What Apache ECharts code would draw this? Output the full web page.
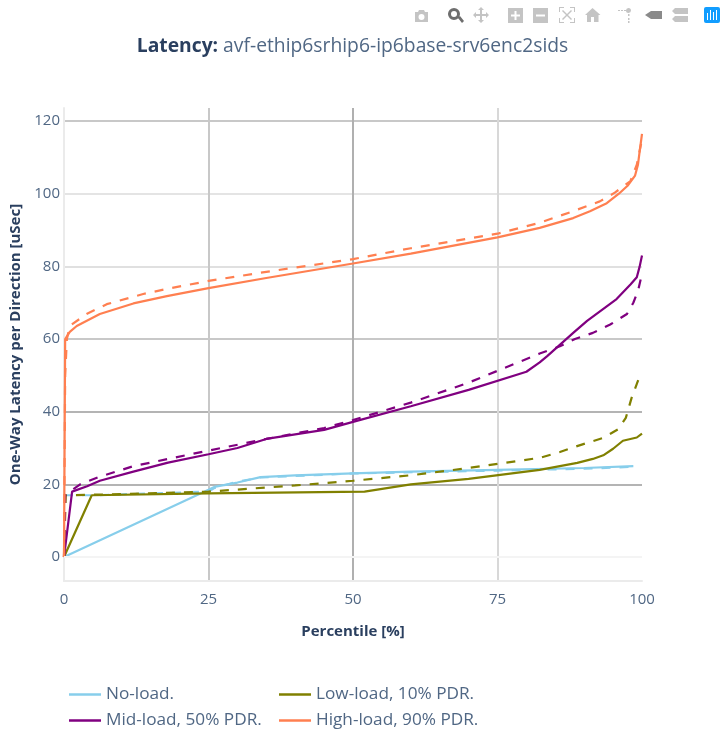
<!DOCTYPE html>
<html><head><meta charset="utf-8">
<style>html,body{margin:0;padding:0;background:#fff}#c{width:726px;height:738px}</style>
<script src="https://cdn.jsdelivr.net/npm/echarts@6/dist/echarts.min.js"></script>
</head><body><div id="c"></div>
<script>
const titleBold = 'Latency:';
const titleRest = 'avf-ethip6srhip6-ip6base-srv6enc2sids';
const xTicks = [0,25,50,75,100];
const yTicks = [0,20,40,60,80,100,120];
const names = ['No-load.','Low-load, 10% PDR.','Mid-load, 50% PDR.','High-load, 90% PDR.'];
const colors = ['#87ceeb','#808000','#800080','#ff7f50'];

const noSolid = [[0,0],[25,18.5],[26,19.3],[30,20.5],[34,22],[40,22.5],[50,23],[60,23.5],[75,24],[90,24.5],[98.5,25]];
const noDash = [[0,17],[0.5,17],[5,17],[25,18],[26,19],[30,20.7],[34,21.9],[50,23],[75,23.8],[90,24.3],[98,24.8]];
const lowSolid = [[0,0],[4.8,17],[25,17.5],[52,18],[60,20],[70,21.5],[82.3,24],[88.8,25.9],[91.5,27],[93.3,28],[95,29.8],[96.7,32],[99.1,32.9],[100,34]];
const lowDash = [[0,0],[0.3,17],[10,17.3],[25,18],[40,19.7],[50,21],[60,22.5],[70,24.5],[82.3,27.3],[85.8,28.9],[88.9,30.6],[93.3,32.8],[95.9,35.2],[97.2,38.3],[98.2,43.8],[99.6,49.8],[100,50.5]];
const midSolid = [[0,0],[1.4,18],[4,19.5],[6.2,21],[12,23.5],[18,26],[25,28.3],[30,30],[35,32.5],[45,35],[50,37.2],[60,41.5],[70,46],[80,51],[82.3,53.6],[83.6,55.3],[88.1,61.7],[90.5,65],[95.6,71],[98,75],[99.1,77],[99.6,80],[100,83]];
const midDash = [[0,0],[0.2,17],[1,18],[2.8,20],[6,22],[12,25],[18,27],[25,29.3],[35,32.5],[45,35.5],[50,37.7],[60,42.5],[70,48],[82.3,56],[85.8,58],[88.4,60],[91.5,61.7],[94.5,64],[97.4,66.9],[98.5,70],[99.3,73.2],[100,78]];
const highSolid = [[0,0],[0.1,30],[0.2,60],[1,62],[2.2,63.6],[6.2,66.9],[12,69.8],[17.8,71.8],[25,74],[35,76.8],[50,80.8],[60,83.5],[75,88],[82.3,90.6],[88.1,93.3],[91,95.2],[93.9,97.4],[96,100],[97.5,102.2],[98.8,105],[99.3,108],[99.6,111.7],[100,116.5]];
const highDash = [[0,0],[0.2,50],[0.5,60],[1,63.6],[3.9,66.9],[7.4,69.6],[13.7,72.4],[17.8,73.8],[25,76],[35,78.5],[50,82],[60,85],[75,89],[82.3,92],[88.1,95.2],[92.7,97.9],[95.3,100.3],[98,103.5],[99.1,108],[100,115]];

const xGridColors = ['#ebebeb','#c8c8c8','#b0b0b0','#d8d8d8','rgba(0,0,0,0)'];
const yGridColors = ['rgba(0,0,0,0)','#b4b4b4','#b4b4b4','#c8c8c8','#e0e0e0','#e4e4e4','#c8c8c8'];

const F = '"Open Sans"';
const TXT = '#2a3f5f', TICK = '#506784', ICON = '#c4c4c4';
const line = (i, data, dashed) => ({
  type:'line', name:names[i], data, showSymbol:false, symbol:'none', smooth:false, silent:true,
  lineStyle:{color:colors[i], width:2.2, type:dashed?[9,9]:'solid'}, itemStyle:{color:colors[i]}
});
const legendCommon = {orient:'vertical', icon:'rect', itemWidth:32, itemHeight:2.5, itemGap:9, top:686, padding:0,
  textStyle:{fontFamily:F, fontSize:17.2, color:TICK}, selectedMode:false};
let iconCount = 0;
const icon = (x, y, pathData, fill) => {
  const nm = 'tbicon' + (iconCount++);
  echarts.graphic.registerShape(nm, echarts.graphic.extendPath(pathData, {}));
  return {type:nm, x, y, style:{fill:fill||ICON}, silent:true};
};
const chart = echarts.init(document.getElementById('c'), null, {renderer:'canvas'});
chart.setOption({
  animation:false, backgroundColor:'#fff',
  title:{left:347.5, textAlign:'center', top:32,
    text:'{b|'+titleBold+'} {r|'+titleRest+'}',
    textStyle:{fontWeight:'normal',rich:{b:{fontFamily:F,fontSize:19.3,fontWeight:'bold',color:TXT},r:{fontFamily:F,fontSize:19.3,fontWeight:'normal',color:TICK}}}},
  grid:{left:64, right:84, top:108, bottom:157, outerBoundsMode:'none'},
  legend:[
    Object.assign({left:69, data:[names[0],names[2]]}, legendCommon),
    Object.assign({left:279, data:[names[1],names[3]]}, legendCommon)
  ],
  xAxis:{type:'value', min:0, max:100, interval:25,
    name:'Percentile [%]', nameLocation:'middle', nameGap:43,
    nameTextStyle:{fontFamily:F,fontSize:15,fontWeight:'bold',color:TXT},
    axisLine:{show:true,onZero:false,lineStyle:{color:'#ebebeb',width:2}}, axisTick:{show:false},
    axisLabel:{fontFamily:F,fontSize:15,color:TICK,margin:11},
    splitLine:{show:true,lineStyle:{color:xGridColors,width:2}}},
  yAxis:{type:'value', min:-6.6, max:123.6,
    name:'One-Way Latency per Direction [uSec]', nameLocation:'middle', nameGap:39,
    nameTextStyle:{fontFamily:F,fontSize:15,fontWeight:'bold',color:TXT},
    axisLine:{show:true,onZero:false,lineStyle:{color:'#ebebeb',width:2}},
    axisTick:{show:false,customValues:yTicks},
    axisLabel:{fontFamily:F,fontSize:15,color:TICK,margin:4,customValues:yTicks},
    splitLine:{show:true,lineStyle:{color:yGridColors,width:2}}},
  series:[
    line(0,noSolid,false), line(0,noDash,true),
    line(1,lowSolid,false), line(1,lowDash,true),
    line(2,midSolid,false), line(2,midDash,true),
    line(3,highSolid,false), line(3,highDash,true),
    {type:'line', data:[], silent:true, z:1, markLine:{silent:true, symbol:'none', label:{show:false}, animation:false,
      lineStyle:{color:'#f4f4f4',width:2,type:'solid'}, data:[{yAxis:0}]}}
  ],
  graphic:[
    icon(414,9,'M1 3h3l1-2h5l1 2h3v10H1zM7.5 5a3 3 0 1 0 .01 0z'),
    icon(447,7,'M7 1a6 6 0 1 1-.01 0zM7 4a3 3 0 1 0 .01 0zM11 11l2-2 4 5-2 2z','#6e6e6e'),
    icon(473,7,'M8 0l3 3H9v4h4V5l3 3-3 3V9H9v4h2l-3 3-3-3h2V9H3v2L0 8l3-3v2h4V3H5z'),
    icon(508,8,'M0 0h15v15H0zM6.5 3v3.5H3v2h3.5V12h2V8.5H12v-2H8.5V3z'),
    icon(533,8,'M0 0h15v15H0zM3 6.5v2h9v-2z'),
    icon(559,7,'M0 0h5v1H1v4H0zM11 0h5v5h-1V1h-4zM0 11h1v4h4v1H0zM15 11h1v5h-5v-1h4zM4 3l4 4 4-4 1 1-4 4 4 4-1 1-4-4-4 4-1-1 4-4-4-4z'),
    icon(585,8,'M7.5 0l8 7h-2v7H9V9H6v5H2V7H0z'),
    icon(618,8,'M0 2h2v1H0zM3 2h2v1H3zM6 2h2v1H6zM10.5 0a2.5 2.5 0 1 1-.01 0zM10 6h1.5v2H10zM10 10h1.5v2H10zM10 13h1.5v2H10z'),
    icon(645,10,'M0 5l6-4h11v8H6z','#8a8a8a'),
    icon(671,7,'M4 1h13v6H4L1 4zM4 9h13v6H4L1 12z'),
    {type:'rect', shape:{x:704,y:7,width:16,height:16,r:2}, style:{fill:'#119dff'}, silent:true},
    icon(704,7,'M3 6h1v7H3zM6 3h1v10H6zM9 5h1v8H9zM12 3h1v10h-1z','#fff')
  ]
});
</script></body></html>
